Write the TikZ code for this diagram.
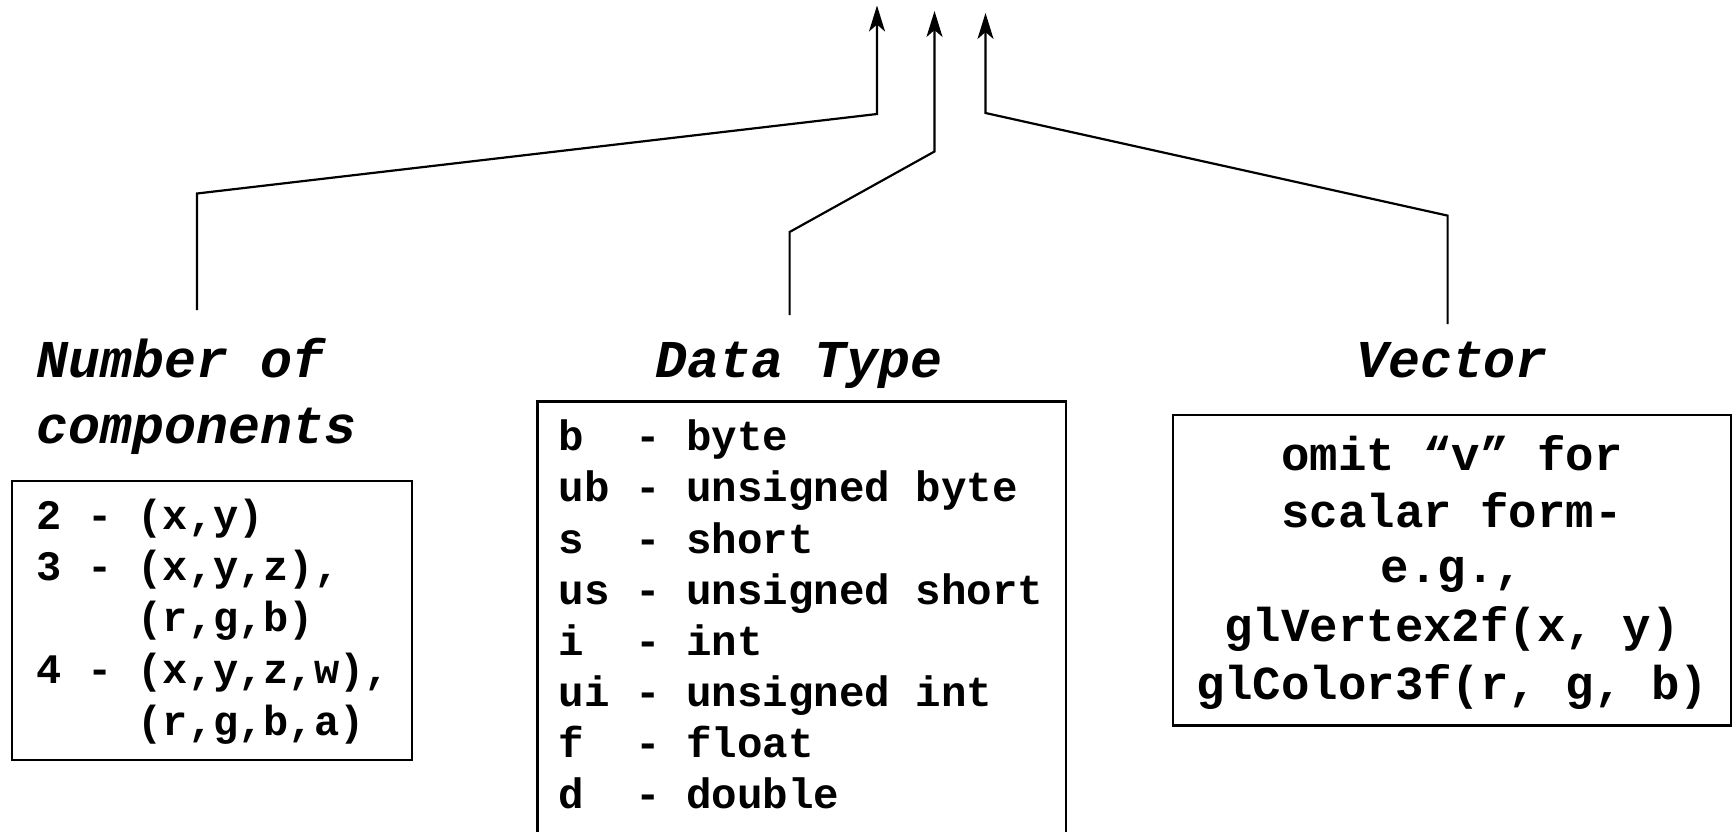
\documentclass[tikz,border=0pt]{standalone}
\usepackage{fontspec}
\newfontfamily\cm{Liberation Mono}
\usetikzlibrary{arrows.meta}
\tikzset{
  ln/.style={line width=1.1pt, line join=miter},
  arr/.style={ln, -{Stealth[length=13pt,width=8pt,inset=3.5pt]}},
  boxline/.style={draw, line width=1.1pt},
  title/.style={inner sep=0pt, font=\cm\bfseries\itshape\fontsize{26.6}{30}\selectfont},
  rowa/.style={inner sep=0pt, anchor=base west, font=\cm\bfseries\fontsize{21}{25}\selectfont},
  rowb/.style={inner sep=0pt, anchor=base west, font=\cm\bfseries\fontsize{21.25}{25}\selectfont},
  rowc/.style={inner sep=0pt, anchor=base, font=\cm\bfseries\fontsize{23.7}{28}\selectfont},
}
\begin{document}
\begin{tikzpicture}[x=0.5pt,y=-0.5pt]
\useasboundingbox (0,0) rectangle (1734,831);

% boxes
\draw[boxline] (12,481) rectangle (412,760);
\draw[boxline] (537.5,401.5) rectangle (1066,840);
\draw[boxline] (1173,415) rectangle (1731,725.5);

% titles
\node[title, anchor=base west] (nc1) at (36.5,377) {Number of};
\node[title, anchor=base west] (nc2) at (36.5,443) {components};
\node[title, anchor=base] (dt) at (799,377) {Data Type};
\node[title, anchor=base] (vec) at (1452,377) {Vector};

% number of components rows
\node[rowa] (n1) at (36.5,529) {2 - (x,y)};
\node[rowa] (n2) at (36.5,580) {3 - (x,y,z),};
\node[rowa] (n3) at (36.5,631) {\ \ \ \ (r,g,b)};
\node[rowa] (n4) at (36.5,683) {4 - (x,y,z,w),};
\node[rowa] (n5) at (36.5,735) {\ \ \ \ (r,g,b,a)};

% data type rows
\node[rowb] (d1) at (558.5,450) {b\ \ - byte};
\node[rowb] (d2) at (558.5,501) {ub - unsigned byte};
\node[rowb] (d3) at (558.5,553) {s\ \ - short};
\node[rowb] (d4) at (558.5,604) {us - unsigned short};
\node[rowb] (d5) at (558.5,655) {i\ \ - int};
\node[rowb] (d6) at (558.5,706) {ui - unsigned int};
\node[rowb] (d7) at (558.5,757) {f\ \ - float};
\node[rowb] (d8) at (558.5,808) {d\ \ - double};

% vector rows
\node[rowc] (v1) at (1452,470) {omit “v” for};
\node[rowc] (v2) at (1452,527) {scalar form-};
\node[rowc] (v3) at (1452,582) {e.g.,};
\node[rowc] (v4) at (1452,641) {glVertex2f(x, y)};
\node[rowc] (v5) at (1452,699) {glColor3f(r, g, b)};

% connector ends
\coordinate (s1) at (197,310);
\coordinate (s2) at (789.6,315);
\coordinate (s3) at (1447.6,324);
\coordinate (t1) at (877,5.5);
\coordinate (t2) at (934.5,11);
\coordinate (t3) at (985.5,13);

\draw[arr] (s1) -- (197,193.5) -- (877,114) -- (t1);
\draw[arr] (s2) -- (789.6,232) -- (934.5,151.5) -- (t2);
\draw[arr] (s3) -- (1447.6,215.6) -- (985.5,113) -- (t3);
\end{tikzpicture}
\end{document}
